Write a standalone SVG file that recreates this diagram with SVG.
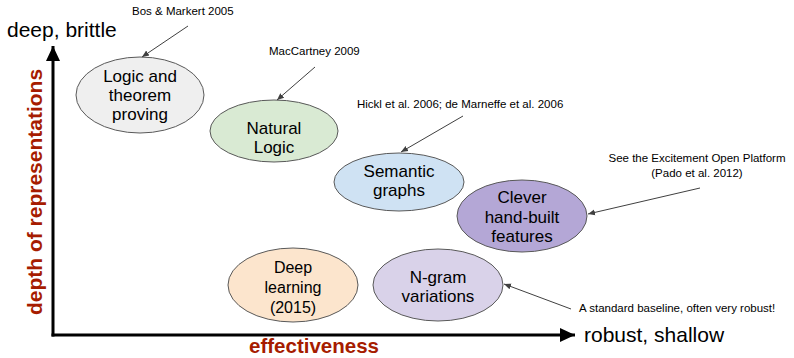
<svg xmlns="http://www.w3.org/2000/svg" width="794" height="358" viewBox="0 0 794 358">
<defs>
<marker id="ah" markerWidth="8" markerHeight="8" refX="7" refY="4" orient="auto" markerUnits="userSpaceOnUse">
<path d="M0,1 L7,4 L0,7 Z" fill="#404040"/>
</marker>
<marker id="axh" markerWidth="16" markerHeight="14" refX="15" refY="7" orient="auto" markerUnits="userSpaceOnUse">
<path d="M0,0 L15,7 L0,14 Z" fill="#000"/>
</marker>
</defs>
<style>
.node ellipse{stroke:#595959;stroke-width:1}
.lbl{font-family:"Liberation Sans",Arial,sans-serif;font-size:17px;fill:#000;text-anchor:middle}
.note{font-family:"Liberation Sans",Arial,sans-serif;font-size:11.5px;fill:#000}
.ax{font-family:"Liberation Sans",Arial,sans-serif;font-size:21px;fill:#000}
.axt{font-family:"Liberation Sans",Arial,sans-serif;font-size:21px;font-weight:bold;fill:#a61c00;text-anchor:middle}
.conn line{stroke:#404040;stroke-width:1;marker-end:url(#ah)}
.axis line{stroke:#000;stroke-width:3;marker-end:url(#axh)}
</style>
<rect width="794" height="358" fill="#fff"/>

<g id="axes" class="axis">
<line x1="53" y1="336.5" x2="53" y2="46"/>
<line x1="51.5" y1="335" x2="575" y2="335"/>
</g>
<text class="ax" x="7" y="37">deep, brittle</text>
<text class="ax" x="584" y="342">robust, shallow</text>
<text class="axt" x="314" y="353" style="font-size:20.5px">effectiveness</text>
<text class="axt" transform="translate(42,192) rotate(-90)">depth of representations</text>

<g id="node-logic" class="node">
<ellipse cx="140" cy="95" rx="64" ry="38" fill="#efefef"/>
<text class="lbl" x="140" y="82">Logic and</text>
<text class="lbl" x="140" y="101">theorem</text>
<text class="lbl" x="140" y="120">proving</text>
</g>
<g id="node-natural" class="node">
<ellipse cx="274" cy="131" rx="64" ry="31" fill="#d9ead3"/>
<text class="lbl" x="274" y="134">Natural</text>
<text class="lbl" x="274" y="153">Logic</text>
</g>
<g id="node-semantic" class="node">
<ellipse cx="399" cy="182" rx="65" ry="29" fill="#cfe2f3"/>
<text class="lbl" x="399" y="177">Semantic</text>
<text class="lbl" x="399" y="196">graphs</text>
</g>
<g id="node-clever" class="node">
<ellipse cx="522" cy="216" rx="65" ry="36" fill="#b4a7d6"/>
<text class="lbl" x="522" y="203">Clever</text>
<text class="lbl" x="522" y="223">hand-built</text>
<text class="lbl" x="522" y="242">features</text>
</g>
<g id="node-deep" class="node">
<ellipse cx="293" cy="285" rx="65" ry="37" fill="#fce5cd"/>
<text class="lbl" x="293" y="273" style="font-size:16px">Deep</text>
<text class="lbl" x="293" y="293" style="font-size:16px">learning</text>
<text class="lbl" x="293" y="313" style="font-size:16px">(2015)</text>
</g>
<g id="node-ngram" class="node">
<ellipse cx="438" cy="285" rx="65" ry="36" fill="#d9d2e9"/>
<text class="lbl" x="438" y="283">N-gram</text>
<text class="lbl" x="438" y="302">variations</text>
</g>

<g id="notes">
<text class="note" x="132" y="15">Bos &amp; Markert 2005</text>
<text class="note" x="269" y="55">MacCartney 2009</text>
<text class="note" x="357" y="108">Hickl et al. 2006; de Marneffe et al. 2006</text>
<text class="note" x="697" y="162" text-anchor="middle">See the Excitement Open Platform</text>
<text class="note" x="697" y="177" text-anchor="middle">(Pado et al. 2012)</text>
<text class="note" x="579" y="312">A standard baseline, often very robust!</text>
</g>

<g id="connectors" class="conn">
<line x1="188" y1="26" x2="142" y2="57"/>
<line x1="315" y1="67" x2="277" y2="100"/>
<line x1="463" y1="116" x2="401" y2="152"/>
<line x1="700" y1="188" x2="588" y2="214"/>
<line x1="571" y1="309" x2="504" y2="284"/>
</g>
</svg>
